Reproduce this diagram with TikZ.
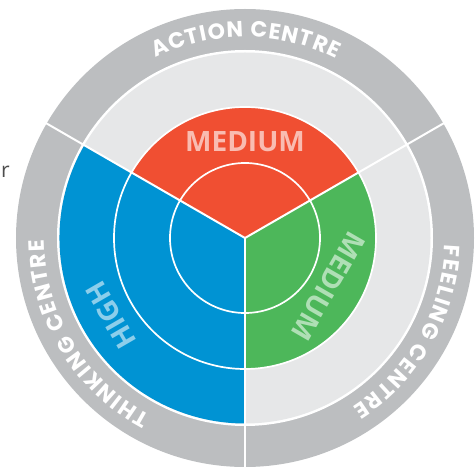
\documentclass[tikz,border=0pt]{standalone}
\usepackage{fontspec}
\usetikzlibrary{decorations.text}
\newfontfamily\popfont{Poppins}
\newfontfamily\osfont{Open Sans}
\definecolor{ringgray}{HTML}{BCBEC0}
\definecolor{lightring}{HTML}{E6E7E8}
\definecolor{secred}{HTML}{F04F32}
\definecolor{secblue}{HTML}{0093D3}
\definecolor{secgreen}{HTML}{4DB75A}
\definecolor{strayc}{HTML}{4D4D4D}
\newcommand{\ringtxt}{\popfont\bfseries\fontsize{22}{22}\selectfont\color{white}}
\tikzset{
  sepline/.style={white, line width=2pt},
  circline/.style={white, line width=1.7pt},
  seclabel/.style={inner sep=0pt, font=\osfont\bfseries\fontsize{28}{28}\selectfont},
  ringlabel/.style={font=\ringtxt, decorate, decoration={text along path, text align=fit to path}}
}
\begin{document}
\begin{tikzpicture}[x=1pt,y=1pt]
\useasboundingbox (-245,-230) rectangle (231,238);
% rings
\fill[ringgray] (0,0) circle[radius=229];
\fill[white] (0,0) circle[radius=188];
\fill[lightring] (0,0) circle[radius=185.5];
% sectors
\fill[secblue] (0,0) -- (150:185.5) arc[start angle=150, end angle=270, radius=185.5] -- cycle;
\fill[secred] (0,0) -- (30:131) arc[start angle=30, end angle=150, radius=131] -- cycle;
\fill[secgreen] (0,0) -- (-90:131) arc[start angle=-90, end angle=30, radius=131] -- cycle;
% circles
\coordinate (c) at (0,0);
\draw[circline] (c) circle[radius=131];
\draw[circline] (c) circle[radius=75];
% separators
\coordinate (e1) at (30:230);
\coordinate (e2) at (150:230);
\coordinate (e3) at (270:230);
\draw[sepline] (c) -- (e1);
\draw[sepline] (c) -- (e2);
\draw[sepline] (c) -- (e3);
% ring texts
\path[ringlabel, decoration={text={|\ringtxt|ACTION CENTRE}}]
  (116.5:201) arc[start angle=116.5, end angle=63, radius=201];
\path[ringlabel, decoration={text={|\ringtxt|FEELING CENTRE}}]
  (-2:200) arc[start angle=-2, end angle=-57.5, radius=200];
\path[ringlabel, decoration={text={|\ringtxt|THINKING CENTRE}}]
  (242:201) arc[start angle=242, end angle=180.5, radius=201];
% sector labels
\node[seclabel, text=white!62!secred] (lmedtop) at (90:96) {MEDIUM};
\node[seclabel, text=white!55!secgreen, rotate=-120] (lmedright) at (-30:96.5) {MEDIUM};
\node[seclabel, text=white!55!secblue, rotate=120] (lhigh) at (210:155) {HIGH};
% stray letter
\node[anchor=base west, inner sep=0pt, text=strayc, font=\osfont\fontsize{21}{21}\selectfont] (stray) at (-244,60) {r};
\end{tikzpicture}
\end{document}
